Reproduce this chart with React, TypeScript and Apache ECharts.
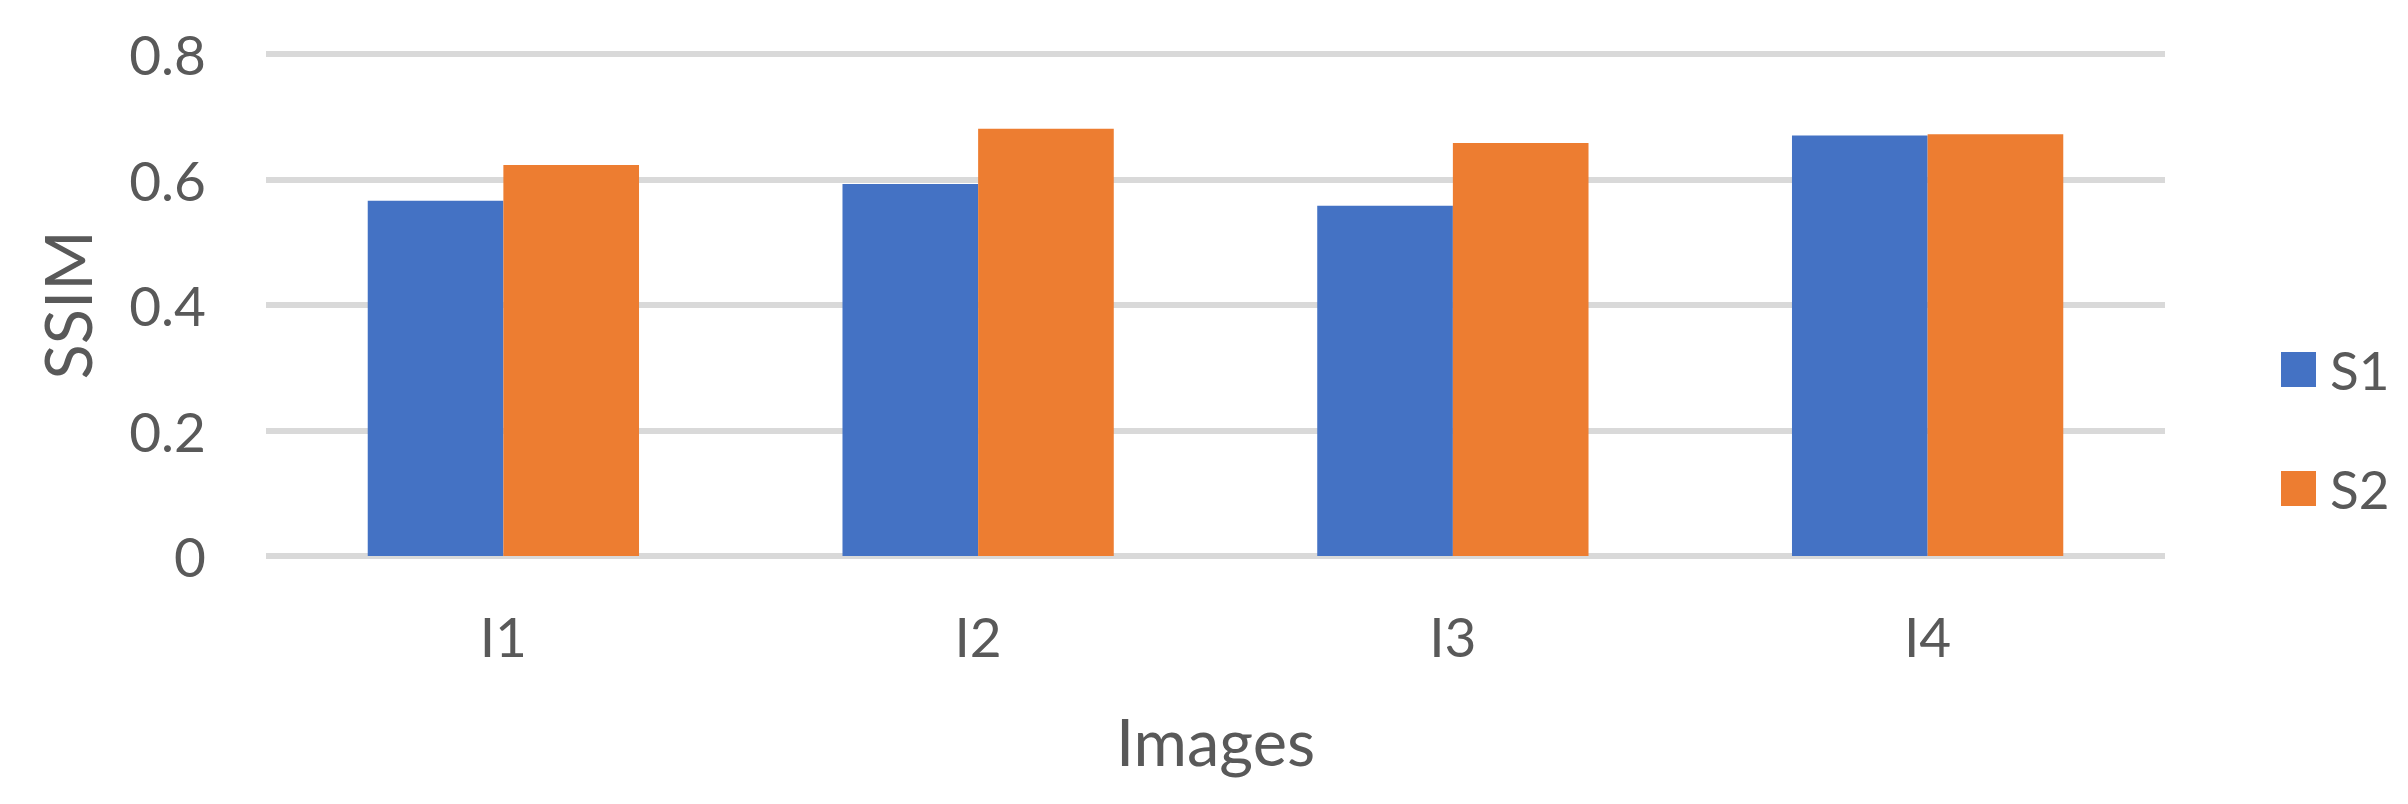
import React, { useEffect, useRef } from "react";
import * as echarts from "echarts";

const categories = ["I1", "I2", "I3", "I4"];
const s1Values = [0.566, 0.593, 0.558, 0.67];
const s2Values = [0.623, 0.681, 0.658, 0.672];
const seriesNames = ["S1", "S2"];

const TEXT = "#595959";
const FONT = "Lato, 'Open Sans', sans-serif";

export default function App() {
  const ref = useRef<HTMLDivElement>(null);
  useEffect(() => {
    if (!ref.current) return;
    const chart = echarts.init(ref.current, undefined, { renderer: "svg" });
    chart.setOption({
      animation: false,
      backgroundColor: "#ffffff",
      textStyle: { fontFamily: FONT },
      grid: { left: 266, right: 243, top: 54, bottom: 248, containLabel: false },
      legend: {
        orient: "vertical",
        left: 2276,
        top: 338,
        itemWidth: 35,
        itemHeight: 35,
        itemGap: 66,
        icon: "rect",
        data: seriesNames,
        textStyle: { color: TEXT, fontSize: 53, lineHeight: 53, fontFamily: FONT, padding: [0, 0, 0, 9] },
      },
      xAxis: {
        type: "category",
        data: categories,
        name: "Images",
        nameLocation: "middle",
        nameGap: 152,
        nameTextStyle: { color: TEXT, fontSize: 65, fontFamily: FONT },
        axisLine: { show: false },
        axisTick: { show: false },
        axisLabel: { color: TEXT, fontSize: 55, margin: 52, fontFamily: FONT },
      },
      yAxis: {
        type: "value",
        min: 0,
        max: 0.8,
        interval: 0.2,
        name: "SSIM",
        nameLocation: "middle",
        nameGap: 167,
        nameTextStyle: { color: TEXT, fontSize: 65, fontFamily: FONT },
        axisLine: { show: false },
        axisTick: { show: false },
        axisLabel: {
          color: TEXT,
          fontSize: 55,
          margin: 60,
          fontFamily: FONT,
          formatter: (v: number) => (v === 0 ? "0" : String(Math.round(v * 10) / 10)),
        },
        splitLine: { lineStyle: { color: "#d9d9d9", width: 6 } },
      },
      series: [
        {
          name: seriesNames[0],
          type: "bar",
          data: s1Values,
          itemStyle: { color: "#4472C4" },
          barGap: "0%",
          barCategoryGap: "42.857%",
        },
        {
          name: seriesNames[1],
          type: "bar",
          data: s2Values,
          itemStyle: { color: "#ED7D31" },
          barGap: "0%",
          barCategoryGap: "42.857%",
        },
      ],
    });
    return () => chart.dispose();
  }, []);
  return (
    <div
      ref={ref}
      style={{ position: "fixed", left: 0, top: 0, width: 2408, height: 804, background: "#fff" }}
    />
  );
}
